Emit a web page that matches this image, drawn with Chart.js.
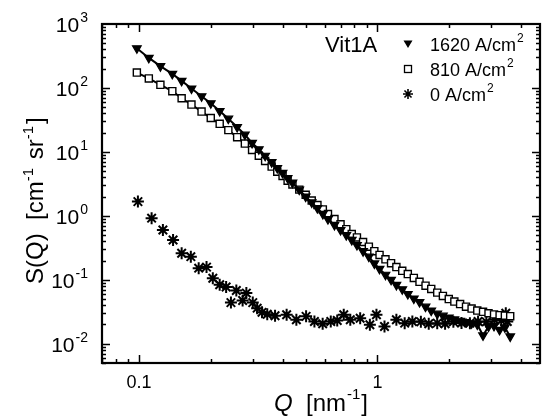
<!DOCTYPE html>
<html>
<head>
<meta charset="utf-8">
<script src="https://cdn.jsdelivr.net/npm/chart.js@4.4.1/dist/chart.umd.min.js"></script>
<style>
    body{margin:0;background:#fff;}
</style>
</head>
<body>
<canvas id="myChart" width="548" height="418"></canvas>
<script>
// Q grid of the two irradiated samples [nm^-1]
let qIrr=[0.098,0.110,0.123,0.138,0.151,0.166,0.183,0.200,0.218,0.237,0.258,0.278,0.298,0.318,0.338,0.36,0.38,0.40,0.42,0.44,
    0.47,0.50,0.53,0.56,0.59,0.62,0.66,0.70,0.74,0.78,0.82,0.87,0.92,0.97,1.02,1.08,1.14,1.20,1.27,1.34,
    1.42,1.50,1.59,1.68,1.78,1.88,1.99,2.10,2.22,2.35,2.48,2.62,2.77,2.92,3.08,3.25,3.42,3.60];
// S(Q) [cm^-1 sr^-1]
let s1620=[417,295,219,166,129,98,74,57.5,43.6,33.1,24.5,18.6,13.8,11.0,8.7,6.9,5.6,4.7,3.9,3.3,
    2.57,2.0,1.62,1.32,1.07,0.89,0.72,0.60,0.50,0.42,0.35,0.28,0.23,0.18,0.148,0.120,0.100,0.083,0.071,0.060,
    0.051,0.045,0.038,0.033,0.0295,0.0275,0.0257,0.024,0.0229,0.0219,0.0209,0.020,0.0135,0.0186,0.019,0.0165,0.018,0.013];
let s810=[174,141,112,89,69,55,42.7,33.9,27.5,21.9,17.0,13.5,10.7,8.7,7.2,5.9,4.9,4.2,3.55,3.1,
    2.57,2.14,1.74,1.48,1.26,1.07,0.89,0.74,0.62,0.52,0.46,0.39,0.33,0.28,0.245,0.209,0.182,0.158,0.138,0.123,
    0.107,0.093,0.081,0.072,0.063,0.056,0.050,0.0457,0.0417,0.038,0.0355,0.033,0.0316,0.030,0.0288,0.028,0.0275,0.027];
// unirradiated sample
let qZero=[0.099,0.113,0.126,0.139,0.151,0.165,0.178,0.192,0.204,0.218,0.232,0.243,0.256,0.272,0.282,0.300,0.313,0.328,0.345,0.372,
    0.416,0.457,0.502,0.544,0.589,0.637,0.678,0.722,0.769,0.846,0.929,0.99,1.07,1.20,1.30,1.40,1.52,1.64,1.78,1.92,
    2.08,2.25,2.44,2.64,2.86,3.09,3.30,3.45,3.50];
let s0=[1.67,0.92,0.60,0.42,0.26,0.23,0.152,0.158,0.106,0.0835,0.077,0.044,0.068,0.0475,0.062,0.044,0.036,0.031,0.029,0.0274,
    0.0284,0.0237,0.0268,0.0223,0.0205,0.0223,0.0231,0.0284,0.0237,0.025,0.0198,0.0284,0.0186,0.0237,0.021,0.0223,0.022,0.0205,0.021,0.0205,
    0.022,0.0211,0.021,0.0223,0.022,0.0237,0.023,0.030,0.0223];

let xTickValues=[0.1,1];
let xTickLabels=["0.1","1"];
let yTickValues=[0.01,0.1,1,10,100,1000];
let yTickExp=["-2","-1","0","1","2","3"];
let legendTitle="Vit1A";
let legendLabels=["1620 A/cm","810 A/cm","0 A/cm"];

const FONT="'Liberation Sans', Arial, sans-serif";

function punti(qs, ss)
{
    let out=[];
    for(let i=0;i<qs.length;i++)
        out.push({x:qs[i],y:ss[i]});
    return out;
}

function marker(c, tipo, x, y)
{
    c.beginPath();
    if(tipo==0)
    {
        c.moveTo(x-4.5,y-3.5);
        c.lineTo(x+4.5,y-3.5);
        c.lineTo(x,y+4);
        c.closePath();
        c.fill();
    }
    else if(tipo==1)
    {
        c.lineWidth=1.3;
        c.strokeRect(x-3.5,y-3.5,7,7);
    }
    else
    {
        c.lineWidth=1.6;
        let r=5;
        for(let k=0;k<4;k++)
        {
            let a=k*Math.PI/4;
            c.moveTo(x-r*Math.cos(a),y-r*Math.sin(a));
            c.lineTo(x+r*Math.cos(a),y+r*Math.sin(a));
        }
        c.stroke();
    }
}

// frame, inward ticks, labels and legend
const cornice={
    id:"cornice",
    afterDraw(chart)
    {
        let c=chart.ctx;
        let a=chart.chartArea;
        let sx=chart.scales.x;
        let sy=chart.scales.y;
        c.save();
        c.strokeStyle="#000";
        c.fillStyle="#000";

        c.lineWidth=1.5;
        c.beginPath();
        for(let d=0.01;d<10;d*=10)
        {
            for(let m=1;m<10;m++)
            {
                let v=d*m;
                if(v<sx.min || v>sx.max) continue;
                let px=Math.round(sx.getPixelForValue(v))+0.5;
                let len=(m==1)?8:4;
                c.moveTo(px,a.bottom); c.lineTo(px,a.bottom-len);
                c.moveTo(px,a.top); c.lineTo(px,a.top+len);
            }
        }
        for(let d=0.001;d<1000;d*=10)
        {
            for(let m=1;m<10;m++)
            {
                let v=d*m;
                if(v<sy.min*0.999 || v>sy.max*1.001) continue;
                let py=Math.round(sy.getPixelForValue(v))+0.5;
                let len=(m==1)?8:4;
                c.moveTo(a.left,py); c.lineTo(a.left+len,py);
                c.moveTo(a.right,py); c.lineTo(a.right-len,py);
            }
        }
        c.stroke();

        c.lineWidth=2.2;
        c.strokeRect(a.left,a.top,a.right-a.left,a.bottom-a.top);

        // y tick labels
        c.textBaseline="alphabetic";
        for(let i=0;i<yTickValues.length;i++)
        {
            let py=sy.getPixelForValue(yTickValues[i]);
            c.font="14px "+FONT;
            let we=c.measureText(yTickExp[i]).width;
            c.font="21px "+FONT;
            let wt=c.measureText("10").width;
            let right=88;
            c.textAlign="left";
            c.fillText("10",right-we-wt-1,py+8);
            c.font="14px "+FONT;
            c.fillText(yTickExp[i],right-we,py-2);
        }

        // x tick labels
        c.font="18px "+FONT;
        c.textAlign="center";
        for(let i=0;i<xTickValues.length;i++)
        {
            let px=sx.getPixelForValue(xTickValues[i]);
            c.fillText(xTickLabels[i],px,388);
        }

        // x title
        c.textAlign="left";
        let x0=274;
        c.font="italic 24px "+FONT;
        c.fillText("Q",x0,411);
        x0+=c.measureText("Q").width;
        c.font="24px "+FONT;
        c.fillText("  [nm",x0,411);
        x0+=c.measureText("  [nm").width;
        c.font="15px "+FONT;
        c.fillText("-1",x0+1,399);
        x0+=c.measureText("-1").width+2;
        c.font="24px "+FONT;
        c.fillText("]",x0,411);

        // y title
        c.save();
        c.translate(43,284);
        c.rotate(-Math.PI/2);
        let t=0;
        let pezzi=[["S(Q)",24,0],["  [cm",24,0],["-1",15,-10],[" sr",24,0],["-1",15,-10],["]",24,0]];
        for(let p of pezzi)
        {
            c.font=p[1]+"px "+FONT;
            c.fillText(p[0],t,p[2]);
            t+=c.measureText(p[0]).width+(p[1]==15?2:0);
        }
        c.restore();

        // legend
        c.font="22px "+FONT;
        c.fillText(legendTitle,325,52);
        let righe=[44,69,94];
        for(let i=0;i<legendLabels.length;i++)
        {
            marker(c,i,408,righe[i]);
            c.font="18px "+FONT;
            c.fillText(legendLabels[i],430,righe[i]+6.5);
            let w=c.measureText(legendLabels[i]).width;
            c.font="12px "+FONT;
            c.fillText("2",431+w,righe[i]-2);
        }
        c.restore();
    }
};

new Chart(document.getElementById("myChart"),{
    type:"scatter",
    data:{
        datasets:[
            {
                label:"1620 A/cm²",
                data:punti(qIrr,s1620),
                showLine:true,
                borderColor:"#000",
                borderWidth:2,
                backgroundColor:"#000",
                pointStyle:"triangle",
                pointRotation:180,
                pointRadius:5,
                pointBorderWidth:1.2
            },
            {
                label:"810 A/cm²",
                data:punti(qIrr,s810),
                showLine:true,
                borderColor:"#000",
                borderWidth:2,
                backgroundColor:"#fff",
                pointStyle:"rect",
                pointRadius:5,
                pointBorderWidth:1.4
            },
            {
                label:"0 A/cm²",
                data:punti(qZero,s0),
                showLine:false,
                borderColor:"#000",
                backgroundColor:"#000",
                pointStyle:"star",
                pointRadius:6,
                pointBorderWidth:2
            }
        ]
    },
    options:{
        responsive:false,
        animation:false,
        layout:{padding:{left:102,right:2,top:24,bottom:55}},
        plugins:{legend:{display:false},tooltip:{enabled:false}},
        scales:{
            x:{type:"logarithmic",min:0.07,max:4.8,display:false},
            y:{type:"logarithmic",min:0.005,max:1000,display:false}
        }
    },
    plugins:[cornice]
});
</script>
</body>
</html>
